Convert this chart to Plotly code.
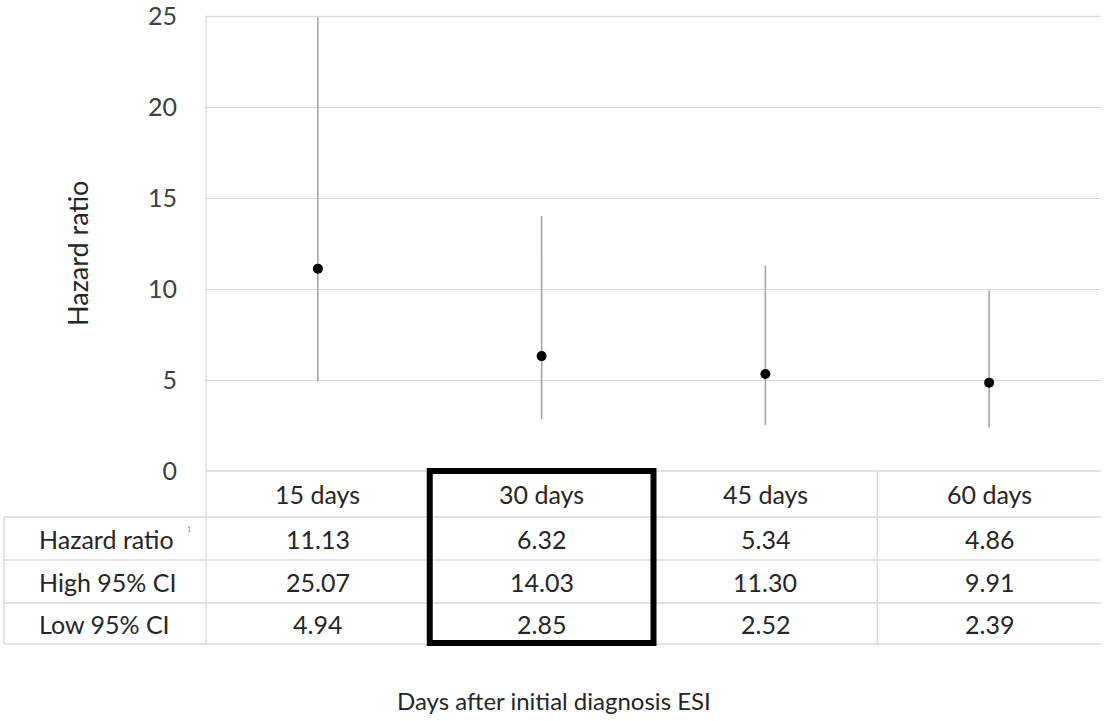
import plotly.graph_objects as go

# Hazard ratios with 95% confidence intervals by follow-up window
categories = ["15 days", "30 days", "45 days", "60 days"]
hazard_ratio = [11.13, 6.32, 5.34, 4.86]
high_ci = [25.07, 14.03, 11.30, 9.91]
low_ci = [4.94, 2.85, 2.52, 2.39]
y_ticks = [0, 5, 10, 15, 20, 25]
row_labels = ["Hazard ratio", "High 95% CI", "Low 95% CI"]
row_values = [hazard_ratio, high_ci, low_ci]
highlight = "30 days"

W, H = 1106, 721
FONT = "Lato"
GRID = "#d9d9d9"
TEXT = "#262626"
TABLE_SIZE = 25


def fx(px):
    return px / W


def fy(py):
    return 1 - py / H


PLOT_L, PLOT_R, PLOT_T, PLOT_B = 206, 1101, 16.5, 471
ROW_EDGES = [471, 517, 560, 603, 644]
TABLE_L = 4

fig = go.Figure()
fig.add_trace(go.Scatter(
    x=categories,
    y=hazard_ratio,
    mode="markers",
    marker=dict(color="black", size=10),
    error_y=dict(
        type="data",
        symmetric=False,
        array=[h - m for h, m in zip(high_ci, hazard_ratio)],
        arrayminus=[m - l for m, l in zip(hazard_ratio, low_ci)],
        color="#a6a6a6",
        thickness=1.6,
        width=0,
    ),
    showlegend=False,
    hoverinfo="skip",
))

shapes = []
# table horizontal rules
for py in ROW_EDGES[1:]:
    shapes.append(dict(type="line", xref="paper", yref="paper",
                       x0=fx(TABLE_L), x1=fx(PLOT_R), y0=fy(py), y1=fy(py),
                       line=dict(color=GRID, width=1.3)))
shapes.append(dict(type="line", xref="paper", yref="paper",
                   x0=fx(PLOT_L), x1=fx(PLOT_R), y0=fy(PLOT_B), y1=fy(PLOT_B),
                   line=dict(color=GRID, width=1.3)))
shapes.append(dict(type="line", xref="paper", yref="paper",
                   x0=fx(PLOT_L), x1=fx(PLOT_R), y0=fy(PLOT_T), y1=fy(PLOT_T),
                   line=dict(color=GRID, width=1.3)))
# table vertical rules
shapes.append(dict(type="line", xref="paper", yref="paper",
                   x0=fx(TABLE_L), x1=fx(TABLE_L), y0=fy(ROW_EDGES[1]), y1=fy(ROW_EDGES[-1]),
                   line=dict(color=GRID, width=1.3)))
shapes.append(dict(type="line", xref="paper", yref="paper",
                   x0=fx(PLOT_L), x1=fx(PLOT_L), y0=fy(PLOT_T), y1=fy(ROW_EDGES[-1]),
                   line=dict(color=GRID, width=1.3)))
for i in range(1, len(categories)):
    shapes.append(dict(type="line", xref="x", yref="paper",
                       x0=i - 0.5, x1=i - 0.5, y0=fy(ROW_EDGES[0]), y1=fy(ROW_EDGES[-1]),
                       line=dict(color=GRID, width=1.3)))
# highlighted column
hi = categories.index(highlight)
shapes.append(dict(type="rect", xref="x", yref="paper",
                   x0=hi - 0.5, x1=hi + 0.5, y0=fy(ROW_EDGES[0]), y1=fy(ROW_EDGES[-1] - 1),
                   line=dict(color="black", width=6), fillcolor="rgba(0,0,0,0)"))

annotations = []
header_y = (ROW_EDGES[0] + ROW_EDGES[1]) / 2
for c in categories:
    annotations.append(dict(x=c, xref="x", y=fy(header_y), yref="paper",
                            text=c, showarrow=False, xanchor="center", yanchor="middle",
                            font=dict(family=FONT, size=TABLE_SIZE, color=TEXT)))
for r, (label, vals) in enumerate(zip(row_labels, row_values)):
    cy = (ROW_EDGES[r + 1] + ROW_EDGES[r + 2]) / 2
    annotations.append(dict(x=fx(37), xref="paper", y=fy(cy), yref="paper",
                            text=label, showarrow=False, xanchor="left", yanchor="middle",
                            font=dict(family=FONT, size=TABLE_SIZE, color=TEXT)))
    if r == 0:
        # footnote marker after the first row label
        annotations.append(dict(x=fx(189), xref="paper", y=fy(cy - 10), yref="paper",
                                text="1", showarrow=False, xanchor="center", yanchor="middle",
                                font=dict(family=FONT, size=7, color="#8c8c8c")))
    for c, v in zip(categories, vals):
        annotations.append(dict(x=c, xref="x", y=fy(cy), yref="paper",
                                text=f"{v:.2f}", showarrow=False, xanchor="center", yanchor="middle",
                                font=dict(family=FONT, size=TABLE_SIZE, color=TEXT)))

annotations.append(dict(x=fx(77), xref="paper", y=fy(254), yref="paper",
                        text="Hazard ratio", textangle=-90, showarrow=False,
                        xanchor="center", yanchor="middle",
                        font=dict(family=FONT, size=27, color=TEXT)))
annotations.append(dict(x=fx(554), xref="paper", y=fy(700), yref="paper",
                        text="Days after initial diagnosis ESI", showarrow=False,
                        xanchor="center", yanchor="middle",
                        font=dict(family=FONT, size=24, color=TEXT)))

fig.update_layout(
    width=W, height=H,
    margin=dict(l=0, r=0, t=0, b=0, autoexpand=False),
    paper_bgcolor="white", plot_bgcolor="white",
    xaxis=dict(domain=[fx(PLOT_L), fx(PLOT_R)], type="category",
               categoryorder="array", categoryarray=categories,
               range=[-0.5, len(categories) - 0.5], automargin=False,
               showticklabels=False, showgrid=False, zeroline=False, showline=False,
               fixedrange=True),
    yaxis=dict(domain=[fy(PLOT_B), fy(PLOT_T)], range=[0, 25], automargin=False,
               tickvals=y_ticks, ticks="", showgrid=True, gridcolor=GRID, gridwidth=1.3,
               zeroline=False, showline=False, ticklabelstandoff=28,
               tickfont=dict(family=FONT, size=25, color="#404040"),
               fixedrange=True),
    shapes=shapes,
    annotations=annotations,
)

fig.write_html("out.html")
